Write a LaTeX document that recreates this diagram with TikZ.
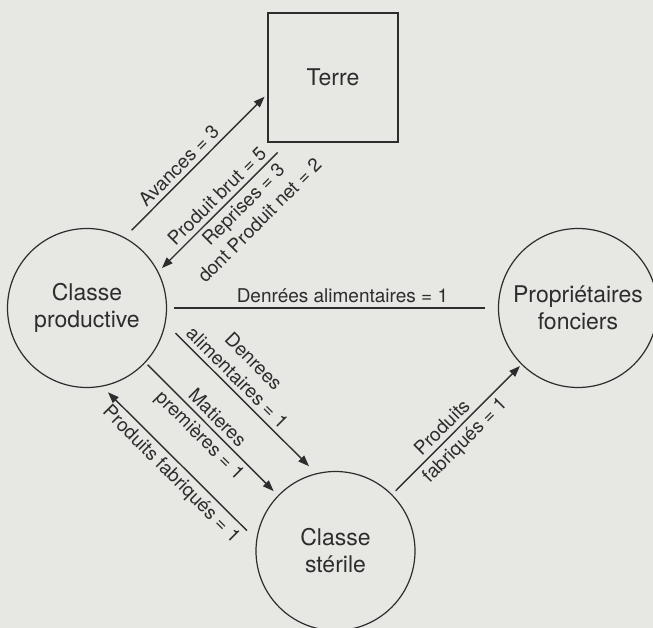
\documentclass[tikz,border=0pt]{standalone}
\usepackage{fontspec}
\setmainfont{TeX Gyre Heros}
\usepackage{tikz}
\usepackage{xcolor}
\usetikzlibrary{arrows.meta}

\definecolor{page}{RGB}{231,231,228}
\definecolor{ink}{RGB}{45,45,45}

\begin{document}
\begin{tikzpicture}[x=1pt, y=-1pt, >={Triangle[length=11pt, width=8pt]},
    cls/.style={circle, draw=ink, line width=1.2pt, inner sep=0pt, minimum size=159pt, align=center, text=ink, font=\fontsize{23}{27}\selectfont},
    lbl/.style={text=ink, align=center, inner sep=4.5pt, font=\fontsize{19}{23}\selectfont},
    flow/.style={draw=ink, line width=1.4pt}]
                \fill[page] (0,0) rectangle (653,628);
                \clip (0,0) rectangle (653,628);

                \node[draw=ink, line width=1.2pt, minimum width=130pt, minimum height=129pt, text=ink, font=\fontsize{23}{27}\selectfont] (terre) at (333, 77.5) {Terre};
                \node[cls] (prod) at (87, 308) {Classe\\productive};
                \node[cls] (prop) at (578, 308) {Propriétaires\\fonciers};
                \node[cls] (ster) at (335.5, 551) {Classe\\stérile};

                \draw[flow, ->, shorten <=10pt, shorten >=4pt] (prod.62) -- node[lbl, above, rotate=45, pos=0.44] {Avances = 3} (terre.194);
                \draw[flow, ->, shorten <=14pt, shorten >=5pt] (terre.235) -- node[lbl, above, rotate=45, pos=0.48] {Produit brut = 5} node[lbl, below, rotate=45, pos=0.41] {Reprises = 3\\dont Produit net = 2} (prod.27);
                \draw[flow, shorten <=7pt, shorten >=13pt] (prod.east) -- node[lbl, above, pos=0.53] {Denrées alimentaires = 1} (prop.west);
                \draw[flow, ->, shorten <=14pt, shorten >=10pt] (prod.-11) -- node[lbl, above, rotate=-45, pos=0.42] {Denrees\\alimentaires = 1} (ster.104);
                \draw[flow, ->, shorten <=3pt, shorten >=6pt] (prod.-43) -- node[lbl, above, rotate=-45, pos=0.48] {Matieres} node[lbl, below, rotate=-45, pos=0.48] {premières = 1} (ster.136);
                \draw[flow, ->, shorten <=13pt, shorten >=8pt] (ster.172) -- node[lbl, below, rotate=-45, pos=0.49] {Produits fabriqués = 1} (prod.-79);
                \draw[flow, ->, shorten <=5pt, shorten >=2pt] (ster.45) -- node[lbl, above, rotate=45, pos=0.45] {Produits} node[lbl, below, rotate=45, pos=0.49] {fabriqués = 1} (prop.225);
            \end{tikzpicture}
\end{document}
